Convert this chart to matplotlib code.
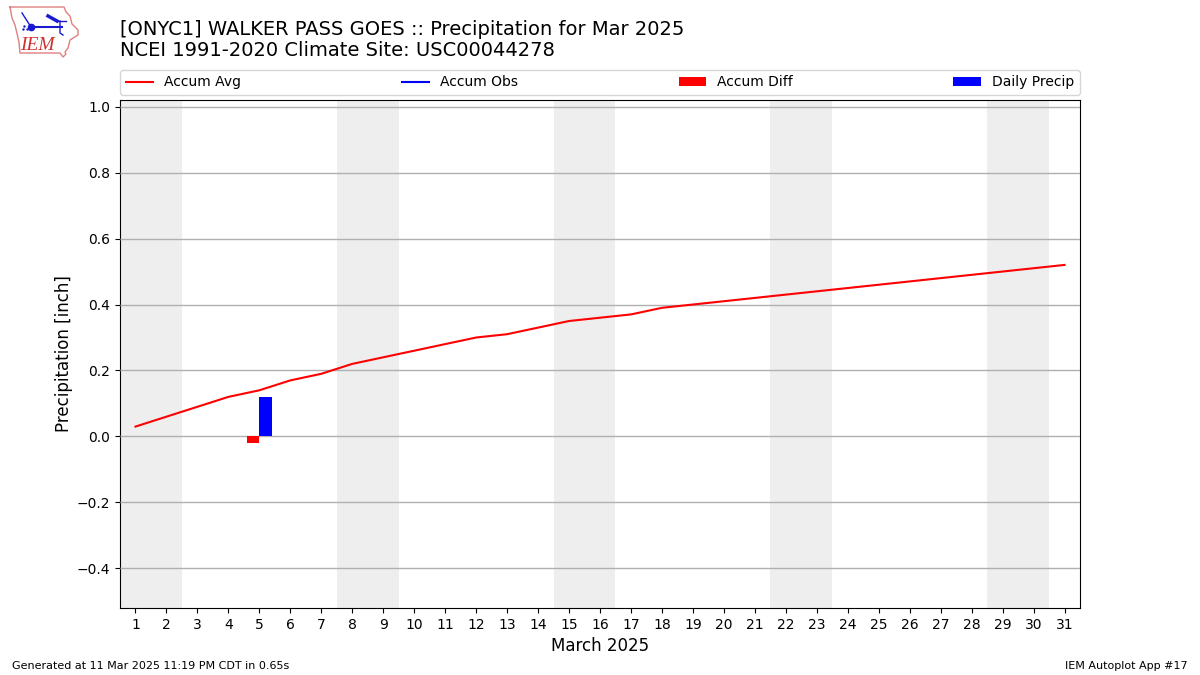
import numpy as np
import matplotlib
matplotlib.use("Agg")
import matplotlib.pyplot as plt

days = np.arange(1, 32)
accum_avg = [0.03, 0.06, 0.09, 0.12, 0.14, 0.17, 0.19, 0.22, 0.24, 0.26, 0.28,
             0.30, 0.31, 0.33, 0.35, 0.36, 0.37, 0.39, 0.40, 0.41, 0.42, 0.43,
             0.44, 0.45, 0.46, 0.47, 0.48, 0.49, 0.50, 0.51, 0.52]
diff_days = [5]
accum_diff = [-0.02]
precip_days = [5]
daily_precip = [0.12]
weekends = [(0.5, 2.5), (7.5, 9.5), (14.5, 16.5), (21.5, 23.5), (28.5, 30.5)]

W, H = 1200.0, 675.0
fig = plt.figure(figsize=(12, 6.75), dpi=100)
ax = fig.add_axes([120 / W, 1 - 608 / H, 960 / W, 508 / H])

for start, end in weekends:
    ax.axvspan(start, end, color="#eeeeee", lw=0, zorder=1)

ax.plot(days, accum_avg, color="red", lw=1.5, label="Accum Avg", zorder=3)
ax.plot([], [], color="blue", lw=1.5, label="Accum Obs")
ax.bar(np.array(diff_days) - 0.2, accum_diff, width=0.4, color="red", label="Accum Diff", zorder=3)
ax.bar(np.array(precip_days) + 0.2, daily_precip, width=0.4, color="blue", label="Daily Precip", zorder=3)

ax.set_xlim(0.5, 31.5)
ax.set_ylim(-0.52, 1.02)
ax.set_xticks(days)
ax.set_yticks(np.arange(-0.4, 1.01, 0.2))
ax.grid(axis="y", color="#b0b0b0", lw=1, zorder=2)
ax.set_axisbelow(False)
ax.tick_params(axis="both", labelsize=10)
ax.set_xlabel("March 2025", fontsize=12, labelpad=3.5)
ax.set_ylabel("Precipitation [inch]", fontsize=12, labelpad=3)
ax.legend(loc="lower left", bbox_to_anchor=(0, 1 + 5 / 508, 1, 0.05), mode="expand",
          ncol=4, fontsize=10, borderaxespad=0)

fig.text(120 / W, 1 - 29.5 / H, "[ONYC1] WALKER PASS GOES :: Precipitation for Mar 2025",
         fontsize=14, va="center")
fig.text(120 / W, 1 - 51 / H, "NCEI 1991-2020 Climate Site: USC00044278",
         fontsize=14, va="center")
fig.text(12 / W, 1 - 666 / H, "Generated at 11 Mar 2025 11:19 PM CDT in 0.65s",
         fontsize=8, va="center")
fig.text(1188 / W, 1 - 666 / H, "IEM Autoplot App #17", fontsize=8, va="center", ha="right")

# logo, drawn in pixel coordinates
logo = fig.add_axes([0, 0, 1, 1], facecolor="none")
logo.set_xlim(0, W)
logo.set_ylim(H, 0)
logo.axis("off")
logo.plot([10, 64, 66, 70, 72, 78, 78, 70, 68, 65, 66, 63, 60, 20, 19, 15, 12, 10],
          [7, 7, 12, 16, 24, 30, 35, 40, 48, 52, 54, 57, 53, 53, 42, 25, 18, 7],
          color="#e08080", lw=1)
logo.plot([31, 62], [27, 27], color="#1a1ad0", lw=1.5)
logo.plot([60, 60, 63], [21, 33, 35], color="#1a1ad0", lw=1)
logo.plot([48, 57], [16, 21], color="#1a1ad0", lw=2.5)
logo.plot([57, 66], [21, 21], color="#1a1ad0", lw=1)
logo.plot([22, 31], [13, 27], color="#1a1ad0", lw=1)
logo.plot([31], [27], "o", color="#1a1ad0", ms=4.5)
logo.plot([24, 27, 23], [26, 29, 29], ".", color="#1a1ad0", ms=1.5)
logo.text(20, 45, "IEM", color="#d03030", fontsize=14, family="Liberation Serif",
          style="italic", va="center")

fig.savefig("out.png", dpi=100)
